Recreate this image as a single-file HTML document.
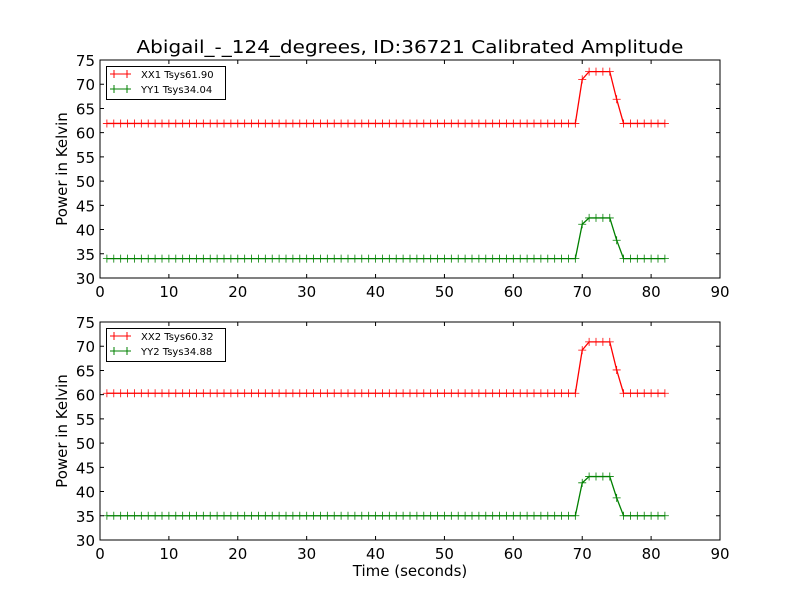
<!DOCTYPE html>
<html><head><meta charset="utf-8"><style>
body{margin:0;background:#fff;}
svg text{font-family:"DejaVu Sans","Liberation Sans",sans-serif;}
</style></head><body>
<svg id="chart" width="800" height="600" xmlns="http://www.w3.org/2000/svg">
<rect width="800" height="600" fill="#fff"/>
<text x="410" y="53" font-size="18" text-anchor="middle" textLength="547" lengthAdjust="spacingAndGlyphs">Abigail_-_124_degrees, ID:36721 Calibrated Amplitude</text>
<text x="410" y="576" font-size="15" text-anchor="middle">Time (seconds)</text>
</svg>
<script>
const xTicks=[0,10,20,30,40,50,60,70,80,90];
const yTicks=[30,35,40,45,50,55,60,65,70,75];
const times=[];for(let t=1;t<=82;t++)times.push(t);
function series(base,peak){const a=[];for(let t=1;t<=82;t++){a.push(t<70?base:(t===70?peak[0]:(t<=74?peak[1]:(t===75?peak[2]:base))));}return a;}
const xx1=series(61.9,[71.0,72.6,66.9]);
const yy1=series(34.0,[41.1,42.4,37.8]);
const xx2=series(60.3,[69.2,70.9,65.1]);
const yy2=series(35.0,[41.8,43.1,38.7]);
const panels=[
 {top:60,name:'top',series:[{d:xx1,c:'#ff0000',label:'XX1 Tsys61.90'},{d:yy1,c:'#008000',label:'YY1 Tsys34.04'}]},
 {top:322,name:'bottom',series:[{d:xx2,c:'#ff0000',label:'XX2 Tsys60.32'},{d:yy2,c:'#008000',label:'YY2 Tsys34.88'}]}
];
const svg=document.getElementById('chart');const NS='http://www.w3.org/2000/svg';
function mk(tag,at,parent){const e=document.createElementNS(NS,tag);for(const k in at)e.setAttribute(k,at[k]);(parent||svg).appendChild(e);return e;}
const L=100,R=720,H=218;
panels.forEach(p=>{
 const g=mk('g',{});
 
 
 const sx=v=>L+(v-0)/90*(R-L);
 const sy=v=>p.top+H-(v-30)/45*H;
 p.series.forEach(s=>{
  const pts=times.map((t,i)=>sx(t)+','+sy(s.d[i])).join(' ');
  const pl=mk('polyline',{points:pts,fill:'none',stroke:s.c,'stroke-width':1.3},g);
  
  
  let dm='';times.forEach((t,i)=>{const x=sx(t),y=sy(s.d[i]);dm+=`M${x-4},${y}H${x+4}M${x},${y-4}V${y+4}`;});
  const m=mk('path',{d:dm,stroke:s.c,'stroke-width':0.8,fill:'none'},g);
  
  
 });
 const fr=mk('rect',{x:L,y:p.top,width:R-L,height:H,fill:'none',stroke:'#000','stroke-width':1},g);
 
 
 xTicks.forEach(v=>{const x=sx(v);
  mk('path',{d:`M${x},${p.top+H}v-4M${x},${p.top}v4`,stroke:'#000'},g);
  const t=mk('text',{x:x,y:p.top+H+19,'font-size':15,'text-anchor':'middle'},g);t.textContent=v;
  
  
 });
 yTicks.forEach(v=>{const y=sy(v);
  mk('path',{d:`M${L},${y}h4M${R},${y}h-4`,stroke:'#000'},g);
  const t=mk('text',{x:L-5,y:y+6,'font-size':15,'text-anchor':'end'},g);t.textContent=v;
  
  
 });
 const yt=mk('text',{x:67,y:p.top+H/2,'font-size':15,'text-anchor':'middle',transform:`rotate(-90 67 ${p.top+H/2})`},g);
 yt.textContent='Power in Kelvin';
 
 
 const lg=mk('g',{},g);
 
 
 mk('rect',{x:106.5,y:p.top+6.5,width:119,height:33,fill:'#fff',stroke:'#000'},lg);
 p.series.forEach((s,i)=>{const y=p.top+14+i*15;
  mk('path',{d:`M110,${y}H131M114,${y-4}v8M127,${y-4}v8`,stroke:s.c,'stroke-width':1},lg);
  const t=mk('text',{x:141,y:y+4,'font-size':10},lg);t.textContent=s.label;
  
  
 });
});
</script>
</body></html>
